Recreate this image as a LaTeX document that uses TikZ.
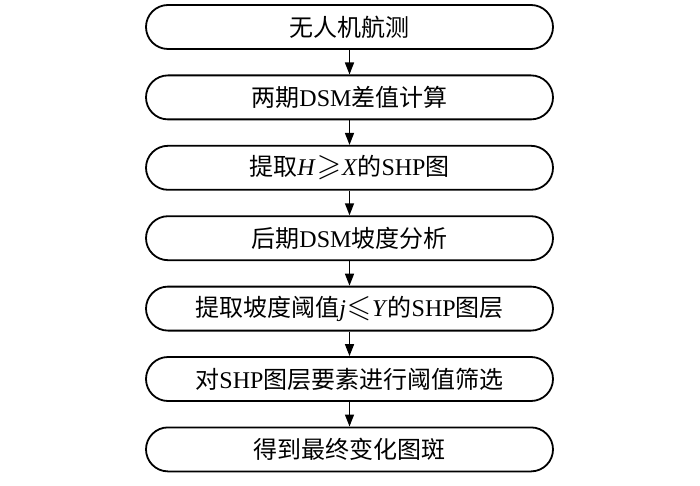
\documentclass[tikz,border=0pt]{standalone}
\usepackage{amssymb}
\usepackage{fontspec}
\setmainfont{Liberation Serif}
\newfontfamily\cjk{Noto Sans CJK SC}
\usetikzlibrary{arrows.meta}
\tikzset{
  stepbox/.style={draw=black, line width=1.8pt, rounded corners=22pt,
    minimum width=407pt, minimum height=44pt, inner sep=0pt,
    font=\fontsize{24pt}{26pt}\selectfont, anchor=center},
  flow/.style={line width=1.4pt, -{Triangle[length=12pt,width=9pt]}}
}
\newcommand{\gsl}{\kern1pt\scalebox{1.3}{$\geqslant$}\kern1pt}
\newcommand{\lsl}{\kern1pt\scalebox{1.3}{$\leqslant$}\kern1pt}
\begin{document}
\begin{tikzpicture}[x=1pt,y=-1pt]
\useasboundingbox (0,0) rectangle (700,486);
\node[stepbox] (b1) at (349.5,27) {\cjk 无人机航测};
\node[stepbox] (b2) at (349.5,97.4) {{\cjk 两期}DSM{\cjk 差值计算}};
\node[stepbox] (b3) at (349.5,167.8) {{\cjk 提取}\textit{H}\gsl\textit{X}{\cjk 的}SHP{\cjk 图}};
\node[stepbox] (b4) at (349.5,238.2) {{\cjk 后期}DSM{\cjk 坡度分析}};
\node[stepbox] (b5) at (349.5,308.6) {{\cjk 提取坡度阈值}\textit{j}\lsl\textit{Y}{\cjk 的}SHP{\cjk 图层}};
\node[stepbox] (b6) at (349.5,379) {{\cjk 对}SHP{\cjk 图层要素进行阈值筛选}};
\node[stepbox] (b7) at (349.5,449.4) {\cjk 得到最终变化图斑};
\draw[flow] (b1) -- (b2);
\draw[flow] (b2) -- (b3);
\draw[flow] (b3) -- (b4);
\draw[flow] (b4) -- (b5);
\draw[flow] (b5) -- (b6);
\draw[flow] (b6) -- (b7);
\end{tikzpicture}
\end{document}
